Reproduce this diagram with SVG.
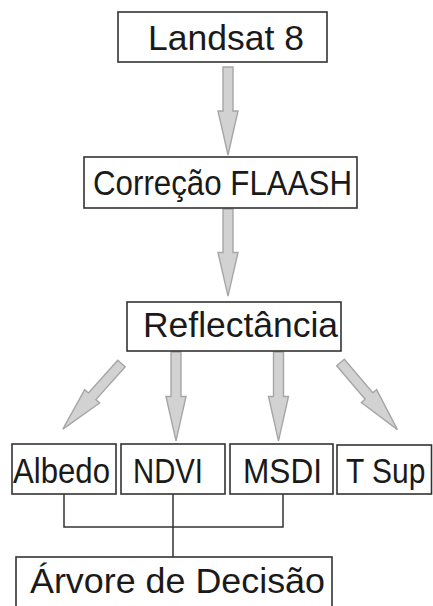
<svg xmlns="http://www.w3.org/2000/svg" width="433" height="606" viewBox="0 0 433 606">
<defs>
<style>
.box{fill:#fff;stroke:#333;stroke-width:1.6}
.lbl{font-family:"Liberation Sans",Arial,sans-serif;font-size:35px;fill:#1a1a1a}
.arr{fill:#d2d2d2;stroke:#a6a6a6;stroke-width:1.4;stroke-linejoin:miter}
.ln{fill:none;stroke:#333;stroke-width:1.5}
</style>
<path id="a88" d="M-5,0 L5,0 L5,44 L10,44 L0,88 L-10,44 L-5,44 Z"/>
</defs>
<rect width="433" height="606" fill="#fff"/>
<g id="connectors">
<use href="#a88" class="arr" transform="translate(228,67)"/>
<use href="#a88" class="arr" transform="translate(228,209) scale(1,0.99)"/>
<use href="#a88" class="arr" transform="translate(176,352) scale(1,1.01)"/>
<use href="#a88" class="arr" transform="translate(278.5,352) scale(1,1.01)"/>
<use href="#a88" class="arr" transform="translate(121.5,363.5) rotate(41.8)"/>
<use href="#a88" class="arr" transform="translate(340.5,362.5) rotate(-40.3)"/>
<path class="ln" d="M64,494 V527 H283 V494 M173,494 V557"/>
</g>
<g id="landsat">
<rect class="box" x="118" y="12" width="209" height="50"/>
<text class="lbl" x="148" y="50" textLength="156" lengthAdjust="spacingAndGlyphs">Landsat 8</text>
</g>
<g id="correcao">
<rect class="box" x="84" y="157" width="273" height="51"/>
<text class="lbl" x="93" y="195" textLength="259" lengthAdjust="spacingAndGlyphs">Correção FLAASH</text>
</g>
<g id="reflectancia">
<rect class="box" x="127" y="302" width="214" height="49"/>
<text class="lbl" x="143" y="337" textLength="195" lengthAdjust="spacingAndGlyphs">Reflectância</text>
</g>
<g id="albedo">
<rect class="box" x="12" y="444" width="104" height="50"/>
<text class="lbl" x="13" y="483" textLength="97" lengthAdjust="spacingAndGlyphs">Albedo</text>
</g>
<g id="ndvi">
<rect class="box" x="121" y="444" width="104" height="50"/>
<text class="lbl" x="133" y="483" textLength="70" lengthAdjust="spacingAndGlyphs">NDVI</text>
</g>
<g id="msdi">
<rect class="box" x="230" y="444" width="103" height="50"/>
<text class="lbl" x="243" y="483" textLength="79" lengthAdjust="spacingAndGlyphs">MSDI</text>
</g>
<g id="tsup">
<rect class="box" x="337" y="445" width="94.5" height="49"/>
<text class="lbl" transform="translate(346,483) scale(1,1.14)" x="0" y="0" style="font-size:30px">T Sup</text>
</g>
<g id="arvore">
<rect class="box" x="16" y="557" width="316" height="60"/>
<text class="lbl" x="30" y="593" textLength="295" lengthAdjust="spacingAndGlyphs">Árvore de Decisão</text>
</g>
</svg>
